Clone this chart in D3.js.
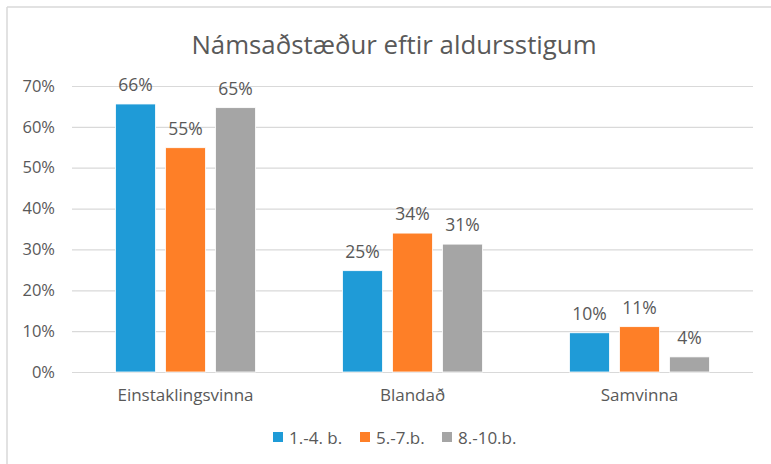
<!DOCTYPE html>
<html>
<head>
<meta charset="utf-8">
<script src="https://cdn.jsdelivr.net/npm/d3@7"></script>
<style>
  body { margin: 0; background: #fff; }
  text { font-family: "Open Sans", "Noto Sans", sans-serif; fill: #595959; }
</style>
</head>
<body>
<svg id="chart" width="771" height="464"></svg>
<script>
// data
var categories = ["Einstaklingsvinna", "Blandað", "Samvinna"];
var seriesNames = ["1.-4. b.", "5.-7.b.", "8.-10.b."];
var seriesColors = ["#1f9bd7", "#fe7f27", "#a5a5a5"];
var valsYoung = [65.6, 24.8, 9.6];   // 1.-4. b.
var valsMid = [54.9, 34.0, 11.1];    // 5.-7.b.
var valsOld = [64.7, 31.3, 3.7];     // 8.-10.b.
var yTicks = [0, 10, 20, 30, 40, 50, 60, 70];

var seriesVals = [valsYoung, valsMid, valsOld];

var svg = d3.select("#chart");

// frame (only left + top show in the original)
svg.append("line").attr("x1", 7).attr("x2", 7).attr("y1", 7).attr("y2", 464)
  .attr("stroke", "#d9d9d9").attr("stroke-width", 1.5);
svg.append("line").attr("x1", 7).attr("x2", 771).attr("y1", 7).attr("y2", 7)
  .attr("stroke", "#d9d9d9").attr("stroke-width", 1.5);

svg.append("text")
  .attr("x", 394).attr("y", 54)
  .attr("text-anchor", "middle")
  .style("font-size", "25.8px")
  .text("Námsaðstæður eftir aldursstigum");

var plotL = 72, plotR = 753, plotT = 86, plotB = 372;

var y = d3.scaleLinear().domain([0, 70]).range([plotB, plotT]);
var x0 = d3.scaleBand().domain(categories).range([plotL, plotR]).padding(0);
var x1 = d3.scaleBand().domain(seriesNames).range([0, 140]).paddingInner(0.2).paddingOuter(0);
var groupOff = (x0.bandwidth() - 140) / 2;

// gridlines
var yAxis = d3.axisLeft(y).tickValues(yTicks)
  .tickSize(-(plotR - plotL)).tickPadding(17)
  .tickFormat(function(d) { return d + "%"; });
var gy = svg.append("g")
  .attr("transform", "translate(" + plotL + ",0)")
  .call(yAxis);
gy.select(".domain").remove();
gy.selectAll(".tick line").attr("stroke", "#d9d9d9").attr("stroke-width", 1.2);
gy.selectAll(".tick text").style("font-size", "16.5px").attr("fill", "#595959");

// x axis labels
var xAxis = d3.axisBottom(x0).tickSize(0).tickPadding(17);
var gx = svg.append("g")
  .attr("transform", "translate(0," + plotB + ")")
  .call(xAxis);
gx.select(".domain").remove();
gx.selectAll(".tick text").style("font-size", "17px").attr("fill", "#595959");

// bars
var groups = svg.append("g").selectAll("g")
  .data(categories)
  .enter().append("g")
  .attr("transform", function(d) { return "translate(" + (x0(d) + groupOff) + ",0)"; });

groups.each(function(cat, ci) {
  var g = d3.select(this);
  seriesNames.forEach(function(s, si) {
    var v = seriesVals[si][ci];
    g.append("rect")
      .attr("x", x1(s))
      .attr("y", y(v))
      .attr("width", x1.bandwidth())
      .attr("height", y(0) - y(v))
      .attr("fill", seriesColors[si])
      .attr("stroke", "#fff")
      .attr("stroke-width", 0.8);
    g.append("text")
      .attr("x", x1(s) + x1.bandwidth() / 2)
      .attr("y", y(v) - 13)
      .attr("text-anchor", "middle")
      .style("font-size", "17.5px")
      .text(Math.round(v) + "%");
  });
});

// legend
var legX = [273, 360, 442];
var leg = svg.append("g");
seriesNames.forEach(function(s, i) {
  leg.append("rect")
    .attr("x", legX[i]).attr("y", 432)
    .attr("width", 10).attr("height", 10)
    .attr("fill", seriesColors[i]);
  leg.append("text")
    .attr("x", legX[i] + 16).attr("y", 444)
    .style("font-size", "17px")
    .text(s);
});
</script>
</body>
</html>
